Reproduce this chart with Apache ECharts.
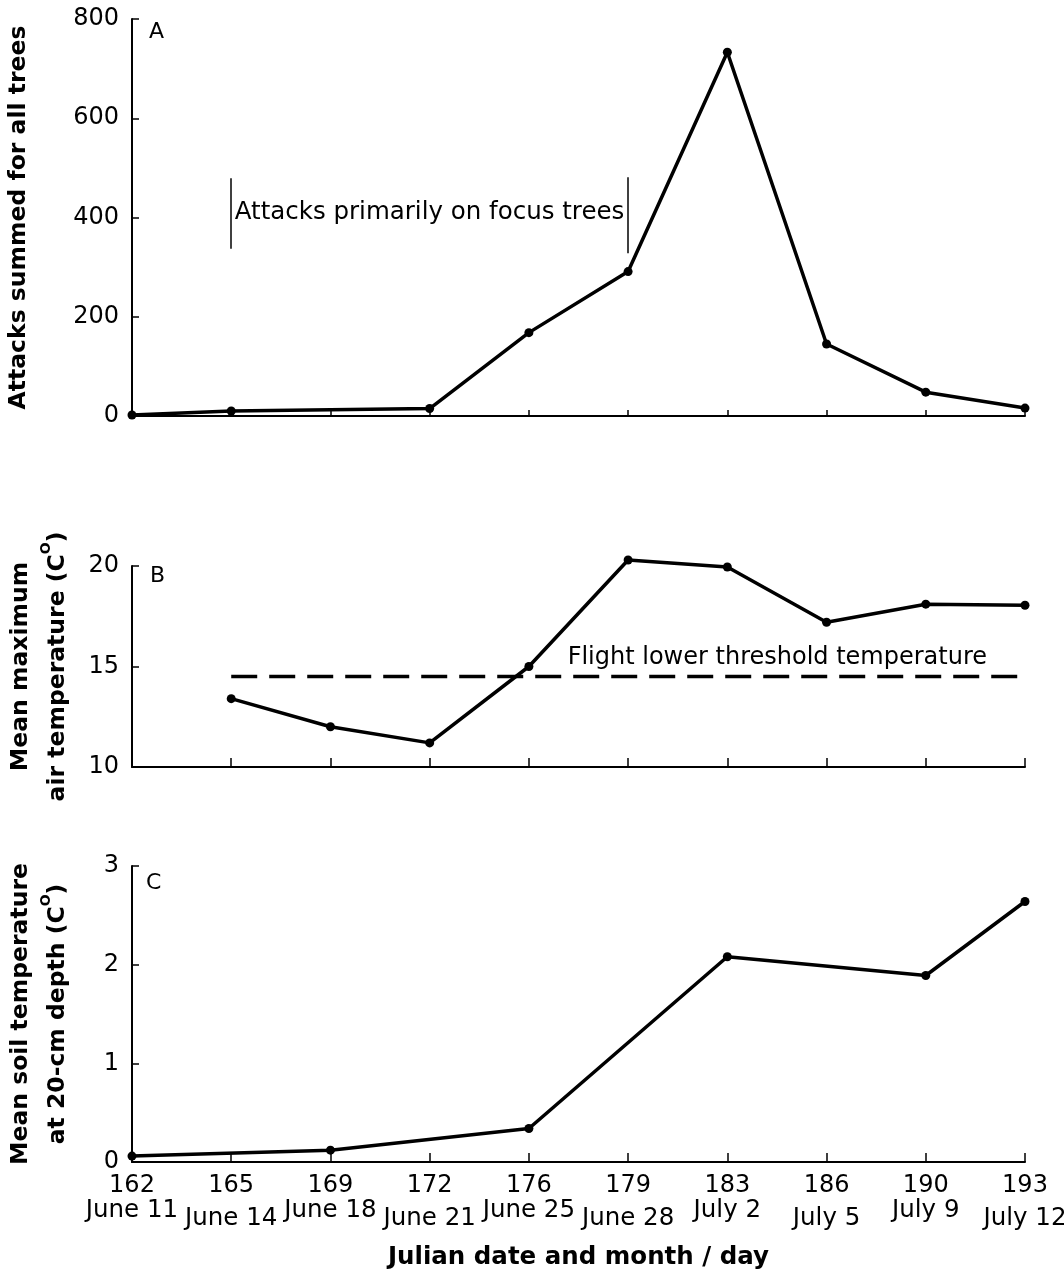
<!DOCTYPE html>
<html>
<head>
<meta charset="utf-8">
<script src="https://cdn.jsdelivr.net/npm/echarts@6/dist/echarts.min.js"></script>
<style>
  html, body { margin: 0; padding: 0; background: #fff; }
  #chart { width: 1064px; height: 1273px; }
</style>
</head>
<body>
<div id="chart"></div>
<script>
// ---- data ----
const julianDays = ['162', '165', '169', '172', '176', '179', '183', '186', '190', '193'];
const monthDays = ['June 11', 'June 14', 'June 18', 'June 21', 'June 25', 'June 28', 'July 2', 'July 5', 'July 9', 'July 12'];
const attacks = [2, 10, null, 15, 168, 291, 733, 145, 48, 16];
const airTemp = [null, 13.4, 12.0, 11.2, 15.0, 20.3, 19.95, 17.2, 18.1, 18.05];
const thresholdTemp = [null, 14.5, 14.5, 14.5, 14.5, 14.5, 14.5, 14.5, 14.5, 14.5];
const soilTemp = [0.06, null, 0.12, null, 0.34, null, 2.08, null, 1.89, 2.64];
const attackTicks = { min: 0, max: 800, interval: 200 };
const airTicks = { min: 10, max: 20, interval: 5 };
const soilTicks = { min: 0, max: 3, interval: 1 };
// annotation ranges (data units)
const focusStart = julianDays[1], focusEnd = julianDays[5];
const focusBarLeft = [337, 479];
const focusBarRight = [328, 481];
const focusLabelValue = 410;
const thresholdLabelValue = 15.45;

const FONT = '"DejaVu Sans", "Liberation Sans", sans-serif';
const BLACK = '#000';

const chart = echarts.init(document.getElementById('chart'), null, { renderer: 'canvas' });

const gridLeft = 132, gridRight = 39;
const grids = [
  { left: gridLeft, right: gridRight, top: 19, height: 397, outerBoundsMode: 'none', containLabel: false },
  { left: gridLeft, right: gridRight, top: 566, height: 201, outerBoundsMode: 'none', containLabel: false },
  { left: gridLeft, right: gridRight, top: 866, height: 296, outerBoundsMode: 'none', containLabel: false }
];

function xAxis(idx, showLabels, tickLen) {
  return {
    type: 'category', gridIndex: idx, data: julianDays, boundaryGap: false,
    axisLine: { show: true, onZero: false, lineStyle: { color: BLACK, width: 2 } },
    axisTick: { show: true, inside: true, length: tickLen, alignWithLabel: true, interval: 0, lineStyle: { color: BLACK, width: 1.5 } },
    splitLine: { show: false },
    axisLabel: showLabels ? {
      show: true, interval: 0, margin: 11, color: BLACK, fontFamily: FONT, hideOverlap: false,
      formatter: (v, i) => '{n|' + v + '}\n{' + (i % 2 === 0 ? 'h' : 'l') + '|' + monthDays[i] + '}',
      rich: {
        n: { fontSize: 24, lineHeight: 25, fontFamily: FONT, color: BLACK },
        h: { fontSize: 24.5, lineHeight: 25, fontFamily: FONT, color: BLACK },
        l: { fontSize: 24.5, lineHeight: 25, fontFamily: FONT, color: BLACK, padding: [17, 0, 0, 0] }
      }
    } : { show: false },
    name: showLabels ? 'Julian date and month / day' : '',
    nameLocation: 'middle', nameGap: 83,
    nameTextStyle: { fontFamily: FONT, fontWeight: 'bold', fontSize: 24.5, color: BLACK }
  };
}

const supRich = {
  s: { fontSize: 14, lineHeight: 22, verticalAlign: 'top', fontFamily: FONT, fontWeight: 'bold', color: BLACK }
};

function yAxis(idx, ticks, name, gap, lineHeight) {
  return {
    type: 'value', gridIndex: idx, min: ticks.min, max: ticks.max, interval: ticks.interval,
    axisLine: { show: true, lineStyle: { color: BLACK, width: 2 } },
    axisTick: { show: true, inside: true, length: 7, lineStyle: { color: BLACK, width: 1.5 } },
    splitLine: { show: false },
    axisLabel: { color: BLACK, fontFamily: FONT, fontSize: 24, margin: 13 },
    name: name, nameLocation: 'middle', nameGap: gap, nameRotate: 90,
    nameTextStyle: { fontFamily: FONT, fontWeight: 'bold', fontSize: 23.5, lineHeight: lineHeight, color: BLACK, rich: supRich }
  };
}

const lineStyleMain = { color: BLACK, width: 3.5 };
const letterStyle = { fontFamily: FONT, fontWeight: 'normal', fontSize: 22, color: BLACK };

const option = {
  backgroundColor: '#fff',
  animation: false,
  title: [
    { text: 'A', left: 149, top: 21, padding: 0, textStyle: letterStyle },
    { text: 'B', left: 150, top: 565, padding: 0, textStyle: letterStyle },
    { text: 'C', left: 146, top: 872, padding: 0, textStyle: letterStyle }
  ],
  grid: grids,
  xAxis: [xAxis(0, false, 6), xAxis(1, false, 9), xAxis(2, true, 9)],
  yAxis: [
    yAxis(0, attackTicks, 'Attacks summed for all trees', 100, 26),
    yAxis(1, airTicks, 'Mean maximum\nair temperature (C{s|O})', 56, 37),
    yAxis(2, soilTicks, 'Mean soil temperature\nat 20-cm depth (C{s|O})', 56, 37)
  ],
  series: [
    {
      type: 'line', xAxisIndex: 0, yAxisIndex: 0, data: attacks, connectNulls: true, clip: false,
      symbol: 'circle', symbolSize: 9, itemStyle: { color: BLACK }, lineStyle: lineStyleMain,
      markLine: {
        silent: true, symbol: ['none', 'none'], label: { show: false },
        lineStyle: { color: BLACK, width: 1.5, type: 'solid' },
        data: [
          [{ coord: [focusStart, focusBarLeft[0]] }, { coord: [focusStart, focusBarLeft[1]] }],
          [{ coord: [focusEnd, focusBarRight[0]] }, { coord: [focusEnd, focusBarRight[1]] }]
        ]
      },
      markPoint: {
        silent: true, symbol: 'circle', symbolSize: 1, itemStyle: { color: 'rgba(0,0,0,0)' },
        data: [{
          coord: [focusStart, focusLabelValue],
          label: { show: true, position: 'right', distance: 3, formatter: 'Attacks primarily on focus trees',
                   fontFamily: FONT, fontSize: 24.5, color: BLACK }
        }]
      }
    },
    {
      type: 'line', xAxisIndex: 1, yAxisIndex: 1, data: airTemp, connectNulls: true, clip: false,
      symbol: 'circle', symbolSize: 9, itemStyle: { color: BLACK }, lineStyle: lineStyleMain
    },
    {
      type: 'line', xAxisIndex: 1, yAxisIndex: 1, data: thresholdTemp, connectNulls: true, clip: false,
      symbol: 'none', lineStyle: { color: BLACK, width: 3.5, type: [26, 12] },
      markPoint: {
        silent: true, symbol: 'circle', symbolSize: 1, itemStyle: { color: 'rgba(0,0,0,0)' },
        data: [{
          coord: [julianDays[6], thresholdLabelValue],
          label: { show: true, position: 'inside', offset: [50, 0], formatter: 'Flight lower threshold temperature',
                   fontFamily: FONT, fontSize: 24, color: BLACK }
        }]
      }
    },
    {
      type: 'line', xAxisIndex: 2, yAxisIndex: 2, data: soilTemp, connectNulls: true, clip: false,
      symbol: 'circle', symbolSize: 9, itemStyle: { color: BLACK }, lineStyle: lineStyleMain
    }
  ]
};

chart.setOption(option);
</script>
</body>
</html>
